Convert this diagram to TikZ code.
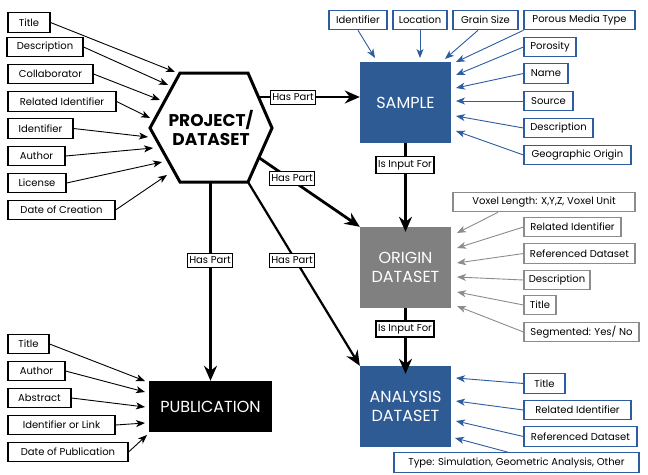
\documentclass[tikz,border=0pt]{standalone}
\usepackage{fontspec}
\setmainfont{Poppins}
\usetikzlibrary{arrows.meta}
\definecolor{sblue}{HTML}{2F5B95}
\definecolor{bblue}{HTML}{2E5CA0}
\definecolor{ogray}{HTML}{808080}
\definecolor{lgray}{HTML}{8C8C8C}
\begin{document}
\begin{tikzpicture}[x=1pt,y=-1pt,
  attr/.style={draw, line width=1.1pt, fill=white, minimum height=19.5pt, inner sep=0pt, font=\fontsize{10}{12}\selectfont, text=black},
  battr/.style={attr, draw=bblue},
  gattr/.style={attr, draw=lgray},
  mainbox/.style={minimum width=91pt, minimum height=81pt, inner sep=0pt, text=white, align=center, font=\fontsize{16}{19}\selectfont},
  lab/.style={draw, line width=1.2pt, fill=white, inner xsep=2pt, inner ysep=1pt, minimum height=14pt, font=\fontsize{10}{11}\selectfont},
  attarrow/.style={-{Stealth[length=9pt,width=7pt,inset=2.5pt]}, line width=0.9pt},
  mainarrow/.style={-{Stealth[length=15pt,width=13pt,inset=5pt]}, line width=2.8pt},
]
\useasboundingbox (0,0) rectangle (648,474);
\fill[white] (0,0) rectangle (648,474);

% ---------- main boxes ----------
\draw[line width=3pt, fill=white] (180,73) -- (248,73) -- (272,128) -- (248,182) -- (180,182) -- (150,128) -- cycle;
\node[font=\fontsize{17}{18.5}\selectfont\bfseries, align=center] (proj) at (211,128) {PROJECT/\\DATASET};
\node[mainbox, fill=sblue] (sample) at (405.5,102.5) {SAMPLE};
\node[mainbox, fill=ogray] (origin) at (405.5,267.5) {ORIGIN\\DATASET};
\node[mainbox, fill=sblue] (analysis) at (405.5,406.5) {ANALYSIS\\DATASET};
\node[mainbox, fill=black, minimum width=123pt, minimum height=51pt] (pub) at (210.5,406.5) {PUBLICATION};

% ---------- project attributes ----------
\node[attr, minimum width=42pt] (pt) at (29,22.5) {Title};
\node[attr, minimum width=76pt] (pd) at (45,47) {Description};
\node[attr, minimum width=85pt] (pc) at (50.5,74) {Collaborator};
\node[attr, minimum width=108pt] (pr) at (62,101.5) {Related Identifier};
\node[attr, minimum width=65pt] (pi) at (40.5,128.5) {Identifier};
\node[attr, minimum width=57pt] (pa) at (36.5,156) {Author};
\node[attr, minimum width=58pt] (pl) at (37,183) {License};
\node[attr, minimum width=107pt] (pdc) at (61.5,210) {Date of Creation};
\coordinate (e1) at (175,72);
\coordinate (e2) at (168,85);
\coordinate (e3) at (160,100);
\coordinate (e4) at (150,118);
\coordinate (e5) at (148,137);
\coordinate (e6) at (153,148);
\coordinate (e7) at (162,162);
\coordinate (e8) at (167,175);
\draw[attarrow] (pt.east) -- (e1);
\draw[attarrow] (pd.east) -- (e2);
\draw[attarrow] (pc.east) -- (e3);
\draw[attarrow] (pr.east) -- (e4);
\draw[attarrow] (pi.east) -- (e5);
\draw[attarrow] (pa.east) -- (e6);
\draw[attarrow] (pl.east) -- (e7);
\draw[attarrow] (pdc.east) -- (e8);

% ---------- sample attributes ----------
\node[battr, minimum width=58pt] (si) at (358,20) {Identifier};
\node[battr, minimum width=54pt] (sl) at (420,20) {Location};
\node[battr, minimum width=65pt] (sg) at (485.5,20) {Grain Size};
\node[battr, minimum width=111pt] (sp) at (579.5,20) {Porous Media Type};
\node[battr, minimum width=52pt] (spo) at (550,47) {Porosity};
\node[battr, minimum width=44pt] (sn) at (546,73.5) {Name};
\node[battr, minimum width=49pt] (ss) at (548.5,101) {Source};
\node[battr, minimum width=69pt] (sd) at (558.5,128) {Description};
\node[battr, minimum width=107pt] (sgo) at (577.5,155) {Geographic Origin};
\coordinate (s1) at (375,58);
\coordinate (s2) at (420,58);
\coordinate (s3) at (445,59);
\coordinate (s4) at (456,62);
\coordinate (s5) at (456,75);
\coordinate (s6) at (456,88);
\coordinate (s7) at (456,101);
\coordinate (s8) at (456,116);
\coordinate (s9) at (456,131);
\draw[attarrow, bblue] (si.south) -- (s1);
\draw[attarrow, bblue] (sl.south) -- (s2);
\draw[attarrow, bblue] ([xshift=-7.5pt]sg.south) -- (s3);
\draw[attarrow, bblue] (sp.south west) -- (s4);
\draw[attarrow, bblue] (spo.west) -- (s5);
\draw[attarrow, bblue] (sn.west) -- (s6);
\draw[attarrow, bblue] (ss.west) -- (s7);
\draw[attarrow, bblue] (sd.west) -- (s8);
\draw[attarrow, bblue] (sgo.west) -- (s9);

% ---------- origin attributes ----------
\node[gattr, minimum width=182pt] (ov) at (544,202) {Voxel Length: X,Y,Z, Voxel Unit};
\node[gattr, minimum width=97pt] (or) at (572.5,227) {Related Identifier};
\node[gattr, minimum width=111pt] (orf) at (579.5,253.5) {Referenced Dataset};
\node[gattr, minimum width=66pt] (od) at (557,280) {Description};
\node[gattr, minimum width=32pt] (ot) at (540,305) {Title};
\node[gattr, minimum width=115pt] (os) at (581.5,332) {Segmented: Yes/ No};
\coordinate (o1) at (457,233);
\coordinate (o2) at (457,248);
\coordinate (o3) at (457,263);
\coordinate (o4) at (457,277);
\coordinate (o5) at (457,292);
\coordinate (o6) at (457,306);
\draw[attarrow, lgray] ([xshift=-46pt]ov.south) -- (o1);
\draw[attarrow, lgray] (or.west) -- (o2);
\draw[attarrow, lgray] (orf.west) -- (o3);
\draw[attarrow, lgray] (od.west) -- (o4);
\draw[attarrow, lgray] (ot.west) -- (o5);
\draw[attarrow, lgray] (os.west) -- (o6);

% ---------- analysis attributes ----------
\node[battr, minimum width=41pt] (at) at (544.5,383.5) {Title};
\node[battr, minimum width=107pt] (ar) at (577.5,410) {Related Identifier};
\node[battr, minimum width=113pt] (arf) at (580.5,436.5) {Referenced Dataset};
\node[battr, minimum width=245pt] (aty) at (516.5,462.5) {Type: Simulation, Geometric Analysis, Other};
\coordinate (a1) at (456,378);
\coordinate (a2) at (456,401);
\coordinate (a3) at (456,421);
\coordinate (a4) at (455,438);
\draw[attarrow, bblue] (at.west) -- (a1);
\draw[attarrow, bblue] (ar.west) -- (a2);
\draw[attarrow, bblue] (arf.west) -- (a3);
\draw[attarrow, bblue] ([xshift=-8.5pt]aty.north) -- (a4);

% ---------- publication attributes ----------
\node[attr, minimum width=41pt] (ut) at (28.5,344) {Title};
\node[attr, minimum width=57pt] (ua) at (36.5,371) {Author};
\node[attr, minimum width=63pt] (uab) at (39.5,398) {Abstract};
\node[attr, minimum width=107pt] (ui) at (61.5,425) {Identifier or Link};
\node[attr, minimum width=120pt] (ud) at (68,452) {Date of Publication};
\coordinate (u1) at (145,381);
\coordinate (u2) at (145,392);
\coordinate (u3) at (145,407);
\coordinate (u4) at (145,423);
\coordinate (u5) at (147,435);
\draw[attarrow] (ut.east) -- (u1);
\draw[attarrow] (ua.east) -- (u2);
\draw[attarrow] (uab.east) -- (u3);
\draw[attarrow] (ui.east) -- (u4);
\draw[attarrow] (ud.east) -- (u5);

% ---------- main relations ----------
\coordinate (h1) at (258,97);
\coordinate (h2) at (258,157);
\coordinate (h3) at (248,182);
\coordinate (h4) at (210.5,182);
\draw[mainarrow] (h1) -- (h1 -| sample.west);
\draw[mainarrow] (h2) -- (origin.north west);
\draw[mainarrow, line width=2.2pt] (h3) -- (analysis.north west);
\draw[mainarrow] (h4) -- (pub.north);
\draw[mainarrow, shorten >=-5pt] (sample.south) -- (origin.north);
\draw[mainarrow, shorten >=-8pt] (origin.south) -- (analysis.north);

\node[lab] (l1) at (293,97.5) {Has Part};
\node[lab] (l2) at (292,178.5) {Has Part};
\node[lab] (l3) at (292,260.5) {Has Part};
\node[lab] (l4) at (210,260.5) {Has Part};
\node[lab, minimum height=17pt] (l5) at (405,165) {Is Input For};
\node[lab, minimum height=16pt] (l6) at (405,329) {Is Input For};
\end{tikzpicture}
\end{document}
